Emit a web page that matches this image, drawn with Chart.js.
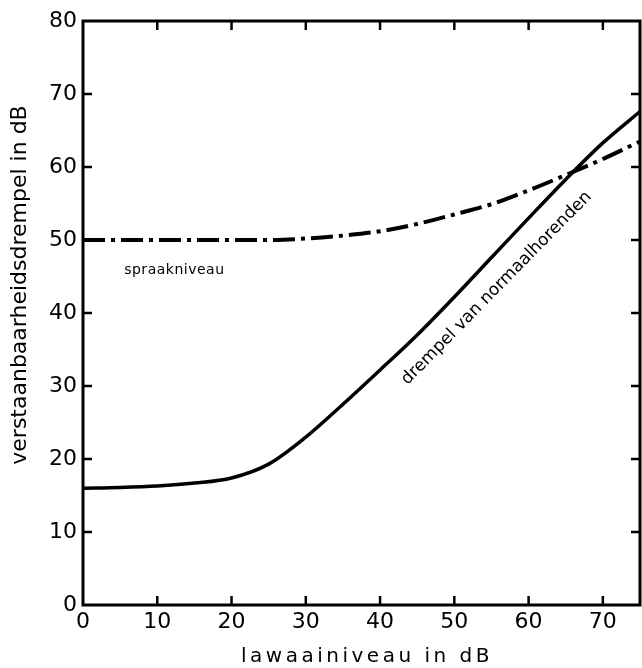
<!DOCTYPE html>
<html>
<head>
<meta charset="utf-8">
<script src="https://cdn.jsdelivr.net/npm/chart.js@4/dist/chart.umd.min.js"></script>
<style>
html,body{margin:0;padding:0;background:#fff;}
canvas{display:block;}
</style>
</head>
<body>
<canvas id="c" width="642" height="668"></canvas>
<script>
const xValues = [0,5,10,15,20,25,30,35,40,45,50,55,60,65,70,75];
const drempelValues = [16.0,16.1,16.3,16.7,17.4,19.3,23.0,27.5,32.2,37.0,42.2,47.6,53.0,58.3,63.3,67.6];
const spraakValues = [50,50,50,50,50,50,50.2,50.6,51.2,52.2,53.5,54.9,56.8,58.9,61.1,63.5];
const xTickLabels = [0,10,20,30,40,50,60,70];
const yTickLabels = [0,10,20,30,40,50,60,70,80];
const xTitle = 'lawaainiveau in dB';
const yTitle = 'verstaanbaarheidsdrempel in dB';
const spraakLabel = 'spraakniveau';
const drempelLabel = 'drempel van normaalhorenden';

const FONT = '"DejaVu Sans", sans-serif';

const overlay = {
  id: 'overlay',
  afterDatasetsDraw(chart) {
    const ctx = chart.ctx;
    const a = chart.chartArea;
    const xs = chart.scales.x, ys = chart.scales.y;
    ctx.save();
    ctx.strokeStyle = '#000';
    ctx.lineWidth = 3;
    ctx.strokeRect(a.left, a.top, a.right - a.left, a.bottom - a.top);
    ctx.lineWidth = 2.5;
    ctx.beginPath();
    xTickLabels.forEach(v => {
      if (v === 0) return;
      const p = xs.getPixelForValue(v);
      ctx.moveTo(p, a.bottom); ctx.lineTo(p, a.bottom - 9);
      ctx.moveTo(p, a.top); ctx.lineTo(p, a.top + 9);
    });
    yTickLabels.forEach(v => {
      if (v === 0 || v === 80) return;
      const p = ys.getPixelForValue(v);
      ctx.moveTo(a.left, p); ctx.lineTo(a.left + 9, p);
      ctx.moveTo(a.right, p); ctx.lineTo(a.right - 9, p);
    });
    ctx.stroke();

    ctx.fillStyle = '#000';
    // y title
    ctx.save();
    ctx.font = '22px ' + FONT;
    ctx.textAlign = 'center';
    ctx.textBaseline = 'middle';
    ctx.translate(20, 285);
    ctx.rotate(-Math.PI / 2);
    ctx.fillText(yTitle, 0, 0);
    ctx.restore();
    // x title
    ctx.save();
    ctx.font = '20px ' + FONT;
    ctx.letterSpacing = '3.5px';
    ctx.textAlign = 'center';
    ctx.textBaseline = 'middle';
    ctx.fillText(xTitle, 367, 657);
    ctx.restore();
    // spraakniveau
    ctx.save();
    ctx.font = '14px ' + FONT;
    ctx.letterSpacing = '0.5px';
    ctx.textAlign = 'center';
    ctx.textBaseline = 'middle';
    ctx.fillText(spraakLabel, xs.getPixelForValue(12.3), ys.getPixelForValue(45.8));
    ctx.restore();
    // drempel label
    ctx.save();
    ctx.font = '17px ' + FONT;
    ctx.textAlign = 'center';
    ctx.textBaseline = 'middle';
    const x1 = xs.getPixelForValue(40), y1 = ys.getPixelForValue(32.2);
    const x2 = xs.getPixelForValue(70), y2 = ys.getPixelForValue(63.3);
    const ang = Math.atan2(y2 - y1, x2 - x1);
    ctx.translate(xs.getPixelForValue(55.7), ys.getPixelForValue(43.4));
    ctx.rotate(ang);
    ctx.fillText(drempelLabel, 0, 0);
    ctx.restore();
    ctx.restore();
  }
};

const toPts = vals => xValues.map((x, i) => ({x: x, y: vals[i]}));

new Chart(document.getElementById('c'), {
  type: 'line',
  data: {
    datasets: [
      {
        label: drempelLabel,
        data: toPts(drempelValues),
        borderColor: '#000',
        borderWidth: 3.5,
        pointRadius: 0,
        fill: false,
        cubicInterpolationMode: 'monotone'
      },
      {
        label: spraakLabel,
        data: toPts(spraakValues),
        borderColor: '#000',
        borderWidth: 4,
        borderDash: [22, 6, 4, 6],
        borderCapStyle: 'butt',
        pointRadius: 0,
        fill: false,
        cubicInterpolationMode: 'monotone'
      }
    ]
  },
  options: {
    responsive: false,
    animation: false,
    devicePixelRatio: 1,
    layout: {padding: {top: 21, right: 2, left: 0, bottom: 0}},
    plugins: {legend: {display: false}, tooltip: {enabled: false}, title: {display: false}},
    scales: {
      x: {
        type: 'linear',
        min: 0, max: 75,
        afterBuildTicks: s => { s.ticks = xTickLabels.map(v => ({value: v})); },
        afterFit: s => { s.height = 63; },
        grid: {display: false, drawTicks: false},
        border: {display: false},
        ticks: {color: '#000', font: {family: FONT, size: 22}, padding: 4, maxRotation: 0, autoSkip: false}
      },
      y: {
        type: 'linear',
        min: 0, max: 80,
        afterBuildTicks: s => { s.ticks = yTickLabels.map(v => ({value: v})); },
        afterFit: s => { s.width = 83; },
        grid: {display: false, drawTicks: false},
        border: {display: false},
        ticks: {color: '#000', font: {family: FONT, size: 22}, padding: 6, autoSkip: false}
      }
    }
  },
  plugins: [overlay]
});
</script>
</body>
</html>
